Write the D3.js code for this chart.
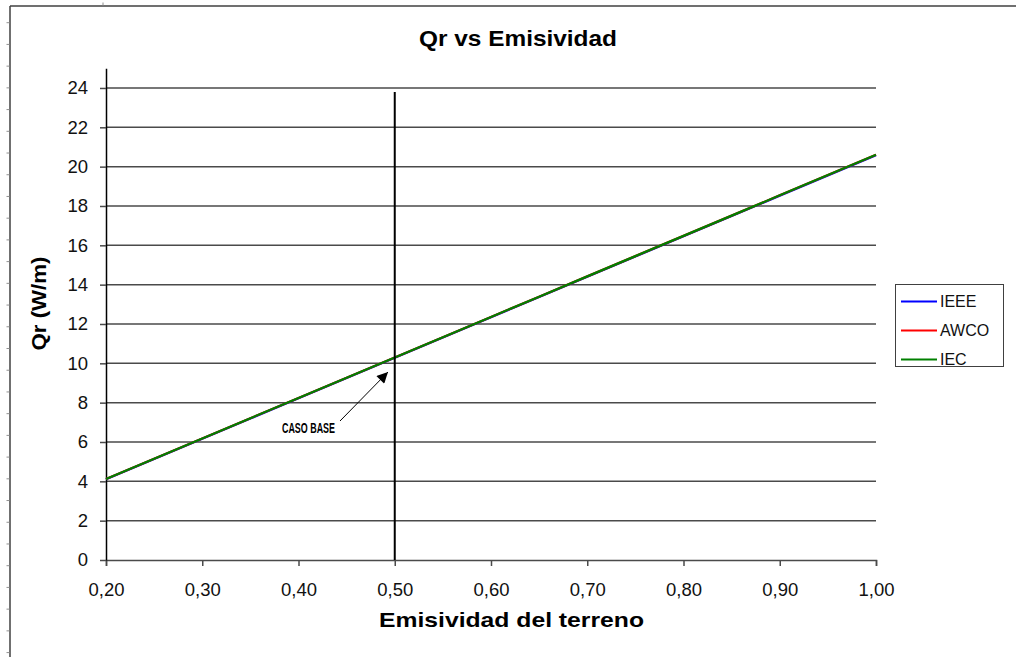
<!DOCTYPE html>
<html>
<head>
<meta charset="utf-8">
<script src="https://cdn.jsdelivr.net/npm/d3@7/dist/d3.min.js"></script>
<style>
  html, body { margin: 0; padding: 0; background: #fff; }
  svg { display: block; font-family: "Liberation Sans", Arial, sans-serif; }
</style>
</head>
<body>
<svg id="chart" width="1016" height="657"></svg>
<script>
// Emissivity of the ground (x) and radiated heat Qr in W/m for each method
const emisividad = [0.20, 0.25, 0.30, 0.35, 0.40, 0.45, 0.50, 0.55, 0.60, 0.65, 0.70, 0.75, 0.80, 0.85, 0.90, 0.95, 1.00];
const qrIEEE = [4.10, 5.13, 6.16, 7.19, 8.22, 9.25, 10.28, 11.31, 12.34, 13.37, 14.40, 15.43, 16.46, 17.49, 18.52, 19.55, 20.58];
const qrAWCO = [4.12, 5.15, 6.18, 7.21, 8.24, 9.27, 10.30, 11.33, 12.36, 13.39, 14.42, 15.45, 16.48, 17.51, 18.54, 19.57, 20.60];
const qrIEC  = [4.12, 5.15, 6.18, 7.21, 8.24, 9.27, 10.30, 11.33, 12.36, 13.39, 14.42, 15.45, 16.48, 17.51, 18.54, 19.57, 20.60];

const seriesNames = ["IEEE", "AWCO", "IEC"];
const seriesColors = ["#0000ff", "#ff0000", "#008000"];
const seriesValues = [qrIEEE, qrAWCO, qrIEC];

const xTicks = [0.2, 0.3, 0.4, 0.5, 0.6, 0.7, 0.8, 0.9, 1.0];
const yTicks = [0, 2, 4, 6, 8, 10, 12, 14, 16, 18, 20, 22, 24];
const casoBase = 0.50;
const casoBaseLabel = "CASO BASE";

const svg = d3.select("#chart");

// Outer chart frame (left and top edges) with small row/column marks
svg.append("line").attr("x1", 10).attr("y1", 6).attr("x2", 10).attr("y2", 657)
  .attr("stroke", "#404040").attr("stroke-width", 1.5);
svg.append("line").attr("x1", 10).attr("y1", 6).attr("x2", 1016).attr("y2", 6)
  .attr("stroke", "#404040").attr("stroke-width", 1.5);
svg.append("g").selectAll("line").data(d3.range(30)).join("line")
  .attr("x1", 6.5).attr("x2", 9.5)
  .attr("y1", i => 22.7 + i * 21.72).attr("y2", i => 22.7 + i * 21.72)
  .attr("stroke", "#909090").attr("stroke-width", 1);
svg.append("line").attr("x1", 103).attr("x2", 103).attr("y1", 2.5).attr("y2", 5.5)
  .attr("stroke", "#909090").attr("stroke-width", 1);

// Scales
const x = d3.scaleLinear().domain([0.2, 1.0]).range([106, 876]);
const y = d3.scaleLinear().domain([0, 25]).range([560, 68.3]);

// Horizontal gridlines
svg.append("g").selectAll("line").data(yTicks.filter(v => v > 0)).join("line")
  .attr("x1", x(0.2)).attr("x2", x(1.0))
  .attr("y1", d => y(d)).attr("y2", d => y(d))
  .attr("stroke", "#4a4a4a").attr("stroke-width", 1.5);

// X axis
const fmtComma = d => d3.format(".2f")(d).replace(".", ",");
const xAxis = svg.append("g").attr("transform", `translate(0,${y(0)})`)
  .call(d3.axisBottom(x).tickValues(xTicks).tickFormat(fmtComma).tickSize(6).tickPadding(17));
xAxis.select(".domain").attr("stroke", "#4a4a4a").attr("stroke-width", 1.5);
xAxis.selectAll(".tick line").attr("stroke", "#4a4a4a").attr("stroke-width", 1.5);
xAxis.selectAll("text").attr("font-size", 18.5).attr("fill", "#111")
  .attr("font-family", "'Liberation Sans', Arial, sans-serif");

// Y axis
const yAxis = svg.append("g").attr("transform", `translate(${x(0.2)},0)`)
  .call(d3.axisLeft(y).tickValues(yTicks).tickFormat(d3.format("d")).tickSize(6).tickSizeOuter(0).tickPadding(12));
yAxis.select(".domain").attr("stroke", "#000").attr("stroke-width", 1.5);
yAxis.selectAll(".tick line").attr("stroke", "#4a4a4a").attr("stroke-width", 1.5);
yAxis.selectAll("text").attr("font-size", 18.5).attr("fill", "#111")
  .attr("font-family", "'Liberation Sans', Arial, sans-serif");

// Series lines
const line = d3.line().x((d, i) => x(emisividad[i])).y(d => y(d));
svg.append("g").selectAll("path").data(seriesValues).join("path")
  .attr("d", d => line(d))
  .attr("fill", "none")
  .attr("stroke", (d, i) => seriesColors[i])
  .attr("stroke-width", 2.2);

// Base-case vertical marker
svg.append("line")
  .attr("x1", x(casoBase)).attr("x2", x(casoBase))
  .attr("y1", 92).attr("y2", y(0))
  .attr("stroke", "#000").attr("stroke-width", 2);

// Base-case annotation with arrow
svg.append("defs").append("marker")
  .attr("id", "arrowhead").attr("viewBox", "0 0 10 10")
  .attr("refX", 10).attr("refY", 5)
  .attr("markerWidth", 14).attr("markerHeight", 11)
  .attr("markerUnits", "userSpaceOnUse")
  .attr("orient", "auto")
  .append("path").attr("d", "M0,0 L10,5 L0,10 z").attr("fill", "#000");
svg.append("line")
  .attr("x1", 340).attr("y1", 421).attr("x2", 388).attr("y2", 372)
  .attr("stroke", "#000").attr("stroke-width", 1)
  .attr("marker-end", "url(#arrowhead)");
svg.append("text")
  .attr("x", 335).attr("y", 432.5)
  .attr("text-anchor", "end")
  .attr("font-family", "'Liberation Sans', Arial, sans-serif")
  .attr("font-weight", "bold").attr("font-size", 14.5)
  .attr("textLength", 53).attr("lengthAdjust", "spacingAndGlyphs")
  .text(casoBaseLabel);

// Title and axis titles
svg.append("text").attr("x", 518).attr("y", 46).attr("text-anchor", "middle")
  .attr("font-weight", "bold").attr("font-size", 22.5)
  .attr("textLength", 198).attr("lengthAdjust", "spacingAndGlyphs")
  .text("Qr vs Emisividad");
svg.append("text").attr("x", 511.5).attr("y", 627).attr("text-anchor", "middle")
  .attr("font-weight", "bold").attr("font-size", 21)
  .attr("textLength", 265).attr("lengthAdjust", "spacingAndGlyphs")
  .text("Emisividad del terreno");
svg.append("text")
  .attr("transform", "translate(46,303.5) rotate(-90)")
  .attr("text-anchor", "middle")
  .attr("font-weight", "bold").attr("font-size", 20)
  .attr("textLength", 94).attr("lengthAdjust", "spacingAndGlyphs")
  .text("Qr (W/m)");

// Legend
const legend = svg.append("g");
legend.append("rect").attr("x", 895.5).attr("y", 284.5).attr("width", 108).attr("height", 82)
  .attr("fill", "#fff").attr("stroke", "#404040").attr("stroke-width", 1);
const items = legend.selectAll("g.item").data(seriesNames).join("g").attr("class", "item")
  .attr("transform", (d, i) => `translate(0,${301.5 + i * 29})`);
items.append("line").attr("x1", 901).attr("x2", 937).attr("y1", 0).attr("y2", 0)
  .attr("stroke", (d, i) => seriesColors[i]).attr("stroke-width", 2);
items.append("text").attr("x", 940).attr("y", 0).attr("dy", "0.36em")
  .attr("font-size", 16).attr("fill", "#111")
  .text(d => d);
</script>
</body>
</html>
